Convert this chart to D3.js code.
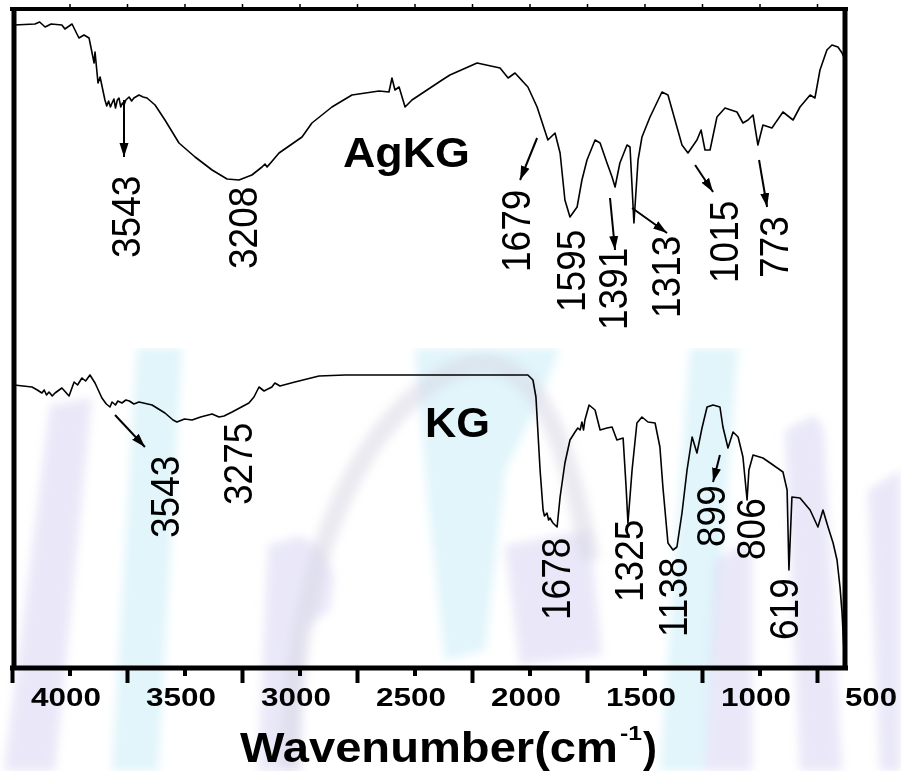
<!DOCTYPE html>
<html>
<head>
<meta charset="utf-8">
<script src="https://cdn.jsdelivr.net/npm/d3@7"></script>
<style>
  body { margin: 0; background: #fff; }
  svg { display: block; font-family: "Liberation Sans", Arial, sans-serif; }
</style>
</head>
<body>
<script>
// spectra: [wavenumber (cm-1), transmittance (a.u.)]
const agkgSpectrum = [
  [4241,641],[4150,642],[4130,644],[4106,639],[4080,642],[4033,641],[4020,637],[3989,642],[3959,628],[3937,631],
  [3915,628],[3893,603],[3889,614],[3876,583],[3867,589],[3846,566],[3838,560],[3830,565],[3822,559],[3815,563],
  [3807,567],[3800,558],[3792,566],[3785,568],[3777,559],[3770,563],[3763,561],[3755,566],[3741,569],[3730,565],
  [3720,568],[3698,571],[3680,569],[3663,568],
  [3628,561],[3585,546],[3524,523],[3454,509],[3380,496],[3315,487],[3263,486],[3207,491],
  [3163,499],[3150,502],[3141,499],[3089,513],[2989,529],[2946,543],[2859,559],[2772,571],[2654,575],
  [2611,574],[2598,588],[2585,576],[2567,579],[2541,559],[2511,566],[2380,586],[2346,591],
  [2228,603],[2128,598],[2093,588],[2063,593],[2007,579],[1967,559],[1920,526],[1889,533],
  [1867,513],[1846,466],[1824,449],[1793,459],[1772,486],[1750,506],[1715,526],[1693,523],
  [1663,503],[1641,489],[1628,479],[1607,503],[1576,521],[1563,519],[1554,479],[1546,443],
  [1528,506],[1511,529],[1476,549],[1424,574],[1398,571],[1359,539],[1337,521],[1311,513],
  [1272,526],[1254,536],[1237,516],[1215,516],[1185,549],[1150,558],[1098,554],[1072,543],
  [1050,546],[1028,551],[1007,521],[985,541],[946,538],[898,554],[854,546],[824,559],
  [780,571],[759,568],[737,596],[707,616],[685,621],[659,619],[641,613],[628,606]
];
const kgSpectrum = [
  [4241,281],[4163,279],[4140,276],[4120,273],[4110,276],[4100,271],[4089,274],[4075,270],[4063,273],[4033,278],
  [4002,270],[3980,284],[3965,281],[3946,288],[3930,285],[3911,291],[3889,283],[3859,268],[3840,262],[3824,259],
  [3815,264],[3800,261],[3790,265],[3772,263],[3755,266],[3740,265],[3720,262],
  [3698,264],[3641,261],[3585,253],[3550,246],[3533,244],[3500,247],[3467,246],[3430,249],[3380,252],[3350,249],
  [3328,250],[3293,254],
  [3220,263],[3198,269],[3176,279],[3154,275],[3120,279],[3107,283],[3085,280],[3020,284],
  [2915,290],[2802,291],[2511,291],[2076,291],[2007,291],[1985,286],[1972,269],[1954,196],
  [1941,156],[1935,150],[1924,153],[1917,146],[1911,148],[1898,143],[1880,139],[1867,169],
  [1846,203],[1824,226],[1802,234],[1790,238],[1780,236],[1772,244],[1765,236],[1759,246],
  [1741,261],[1715,256],[1693,236],[1663,238],[1641,239],[1620,226],[1593,228],[1580,179],
  [1572,143],[1554,196],[1533,243],[1511,249],[1485,244],[1454,243],[1433,219],[1420,179],
  [1398,123],[1376,116],[1359,119],[1337,153],[1315,196],[1293,229],[1272,213],[1250,238],
  [1228,259],[1202,261],[1172,259],[1159,239],[1137,218],[1115,234],[1093,229],[1072,209],
  [1054,166],[1046,196],[1028,211],[985,208],[941,201],[898,194],[880,176],[872,96],
  [859,169],[824,168],[780,156],[746,139],[724,156],[702,139],[680,123],[663,106],
  [650,79],[641,53],[633,16]
];

const seriesNames = ["AgKG", "KG"];
const seriesNamePos = [[2811, 499], [2454, 229]];

const agkgPeaks = ["3543", "3208", "1679", "1595", "1391", "1313", "1015", "773"];
const agkgPeakPos = [[3693,408],[3185,397],[1998,394],[1759,354],[1576,336],[1346,348],[1093,383],[876,388]];
const kgPeaks = ["3543", "3275", "1678", "1325", "1138", "899", "806", "619"];
const kgPeakPos = [[3524,128],[3207,161],[1824,46],[1507,64],[1315,29],[1150,119],[976,106],[833,26]];

// arrows: [from, to] in data units
const arrows = [
  [[3763,566],[3763,509]],
  [[1967,528],[2041,486]],
  [[1650,468],[1628,416]],
  [[1554,458],[1402,433]],
  [[1280,501],[1202,474]],
  [[1002,506],[967,459]],
  [[3802,251],[3672,219]],
  [[1172,211],[1202,184]]
];

const xTickLabels = [4000, 3500, 3000, 2500, 2000, 1500, 1000, 500];
const xMinorTicks = [4250, 3750, 3250, 2750, 2250, 1750, 1250, 750];
const xTopTicks = d3.range(4000, 700, -250);

const width = 901, height = 771;
const frame = { left: 14, right: 845, top: 9, bottom: 668 };

const x = d3.scaleLinear().domain([4250, 500]).range([12, 874.5]);
const y = d3.scaleLinear().domain([0, 656]).range([666, 10]);

const svg = d3.select("body").append("svg")
  .attr("width", width).attr("height", height)
  .attr("viewBox", [0, 0, width, height]);

const defs = svg.append("defs");
defs.append("clipPath").attr("id", "wm-clip")
  .append("rect").attr("x", 0).attr("y", 348).attr("width", width).attr("height", height - 348);
defs.append("clipPath").attr("id", "plot-clip")
  .append("rect").attr("x", frame.left).attr("y", frame.top)
  .attr("width", frame.right - frame.left).attr("height", frame.bottom - frame.top);
defs.append("filter").attr("id", "soft")
  .append("feGaussianBlur").attr("stdDeviation", 5);
defs.append("marker")
  .attr("id", "arrow")
  .attr("viewBox", "0 -5 14 10")
  .attr("refX", 14).attr("refY", 0)
  .attr("markerWidth", 14).attr("markerHeight", 10)
  .attr("markerUnits", "userSpaceOnUse")
  .attr("orient", "auto")
  .append("path").attr("d", "M0,-4.5L14,0L0,4.5Z").attr("fill", "#000");

// faint watermark behind the lower half of the figure
const watermark = [
  { c: "#dcd9f4", p: [[50,405],[92,398],[55,771],[4,771]] },
  { c: "#cdeff9", p: [[137,348],[182,348],[158,771],[112,771]] },
  { c: "#dcd9f4", p: [[268,545],[300,536],[322,548],[334,575],[330,610],[305,628],[300,771],[258,771]] },
  { c: "#cdeff9", p: [[415,348],[560,348],[540,400],[505,470],[485,650],[445,660],[428,500]] },
  { c: "#dcd9f4", p: [[505,545],[590,530],[602,655],[520,665]] },
  { c: "#cdeff9", p: [[690,348],[738,348],[705,771],[660,771]] },
  { c: "#dcd9f4", p: [[715,560],[752,540],[752,771],[705,771]] },
  { c: "#dcd9f4", p: [[785,430],[815,415],[824,430],[842,771],[800,771]] },
  { c: "#dcd9f4", p: [[868,490],[901,470],[901,771],[880,771]] }
];
const wm = svg.append("g").attr("clip-path", "url(#wm-clip)")
  .append("g").attr("filter", "url(#soft)");
wm.selectAll("polygon").data(watermark).join("polygon")
  .attr("points", d => d.p.join(" "))
  .attr("fill", d => d.c)
  .attr("opacity", 0.6);
wm.append("path")
  .attr("d", "M290,771 C292,560 360,420 450,372 C520,340 560,400 590,560")
  .attr("fill", "none")
  .attr("stroke", "#d8d6e4")
  .attr("stroke-width", 20)
  .attr("opacity", 0.5);

// spectra
const line = d3.line().x(d => x(d[0])).y(d => y(d[1]));
const plot = svg.append("g").attr("clip-path", "url(#plot-clip)");
[agkgSpectrum, kgSpectrum].forEach(s => {
  plot.append("path")
    .datum(s)
    .attr("fill", "none")
    .attr("stroke", "#000")
    .attr("stroke-width", 1.6)
    .attr("stroke-linejoin", "round")
    .attr("d", line);
});

// series names
svg.selectAll(".series-name").data(seriesNames).join("text")
  .attr("class", "series-name")
  .attr("x", (d, i) => x(seriesNamePos[i][0]))
  .attr("y", (d, i) => y(seriesNamePos[i][1]))
  .attr("font-size", 42)
  .attr("font-weight", "bold")
  .attr("textLength", d => d.length === 4 ? 127 : 65)
  .attr("lengthAdjust", "spacingAndGlyphs")
  .text(d => d);

// peak labels, rotated
const peaks = agkgPeaks.map((p, i) => ({ t: p, pos: agkgPeakPos[i] }))
  .concat(kgPeaks.map((p, i) => ({ t: p, pos: kgPeakPos[i] })));
svg.selectAll(".peak").data(peaks).join("text")
  .attr("class", "peak")
  .attr("transform", d => `translate(${x(d.pos[0])},${y(d.pos[1])}) scale(1.1,1) rotate(-90)`)
  .attr("font-size", 37)
  .text(d => d.t);

// arrows
svg.selectAll(".arrow").data(arrows).join("line")
  .attr("class", "arrow")
  .attr("x1", d => x(d[0][0])).attr("y1", d => y(d[0][1]))
  .attr("x2", d => x(d[1][0])).attr("y2", d => y(d[1][1]))
  .attr("stroke", "#000")
  .attr("stroke-width", 2)
  .attr("marker-end", "url(#arrow)");

// x axis: long unlabelled ticks, short labelled ticks
const minorAxis = svg.append("g")
  .attr("transform", `translate(0,${frame.bottom})`)
  .call(d3.axisBottom(x).tickValues(xMinorTicks).tickSizeInner(15).tickSizeOuter(0).tickFormat(""));
minorAxis.select(".domain").remove();
minorAxis.selectAll("line").attr("stroke", "#000").attr("stroke-width", 4);

const xAxis = svg.append("g")
  .attr("transform", `translate(0,${frame.bottom})`)
  .call(d3.axisBottom(x).tickValues(xTickLabels).tickSizeInner(8).tickSizeOuter(0).tickFormat(d3.format("d")));
xAxis.select(".domain").remove();
xAxis.selectAll("line").attr("stroke", "#000").attr("stroke-width", 4)
  .filter(d => d < 628).remove();
xAxis.selectAll("text")
  .attr("y", 38).attr("dy", 0).attr("dx", -4)
  .attr("fill", "#000")
  .attr("font-family", "'Liberation Sans', Arial, sans-serif")
  .attr("font-size", 26)
  .attr("font-weight", "bold")
  .attr("textLength", d => d >= 1000 ? 70 : 52)
  .attr("lengthAdjust", "spacingAndGlyphs");

const topAxis = svg.append("g")
  .attr("transform", `translate(0,${frame.top})`)
  .call(d3.axisTop(x).tickValues(xTopTicks).tickSizeInner(5).tickSizeOuter(0).tickFormat(""));
topAxis.select(".domain").remove();
topAxis.selectAll("line").attr("stroke", "#000").attr("stroke-width", 1.5);

// frame
svg.append("line").attr("x1", 10).attr("x2", frame.right + 3).attr("y1", frame.top).attr("y2", frame.top)
  .attr("stroke", "#000").attr("stroke-width", 4);
svg.append("line").attr("x1", frame.left).attr("x2", frame.left).attr("y1", frame.top - 2).attr("y2", frame.bottom + 2)
  .attr("stroke", "#000").attr("stroke-width", 5);
svg.append("line").attr("x1", frame.right).attr("x2", frame.right).attr("y1", frame.top - 2).attr("y2", frame.bottom + 2)
  .attr("stroke", "#000").attr("stroke-width", 5);
svg.append("line").attr("x1", 10).attr("x2", frame.right + 3).attr("y1", frame.bottom).attr("y2", frame.bottom)
  .attr("stroke", "#000").attr("stroke-width", 5);

// axis title
const title = svg.append("g").attr("font-weight", "bold").attr("fill", "#000");
title.append("text").attr("x", 240).attr("y", 762)
  .attr("font-size", 42).attr("textLength", 378).attr("lengthAdjust", "spacingAndGlyphs")
  .text("Wavenumber(cm");
title.append("text").attr("x", 620).attr("y", 740)
  .attr("font-size", 20).attr("textLength", 22).attr("lengthAdjust", "spacingAndGlyphs")
  .text("-1");
title.append("text").attr("x", 643).attr("y", 762)
  .attr("font-size", 42)
  .text(")");
</script>
</body>
</html>
